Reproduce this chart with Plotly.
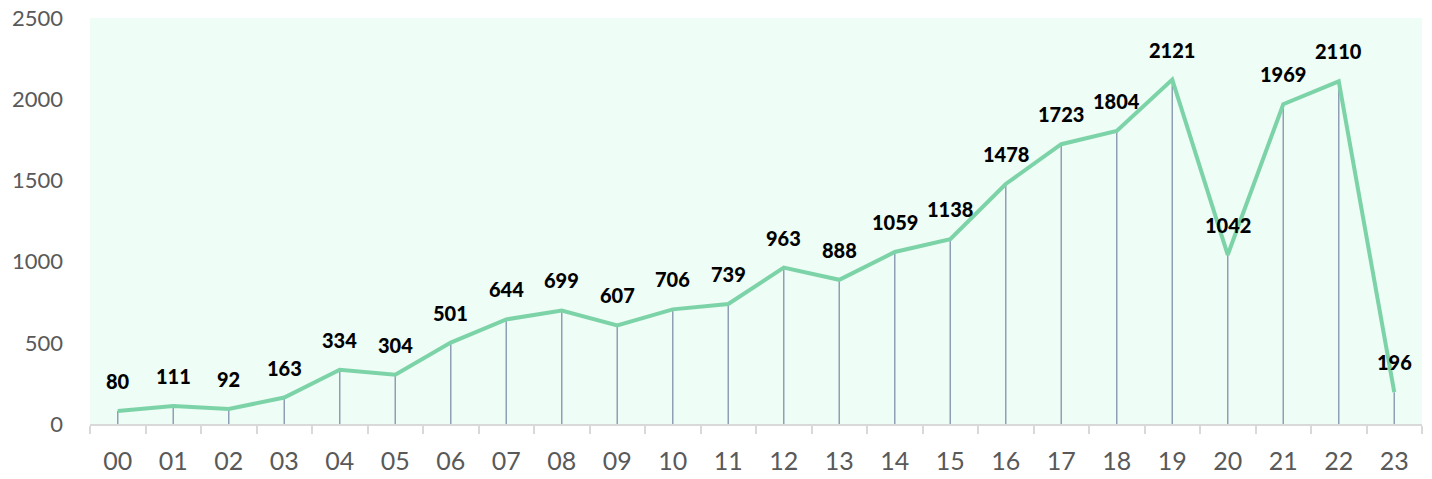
import plotly.graph_objects as go

hours = ["00","01","02","03","04","05","06","07","08","09","10","11",
         "12","13","14","15","16","17","18","19","20","21","22","23"]
counts = [80,111,92,163,334,304,501,644,699,607,706,739,
          963,888,1059,1138,1478,1723,1804,2121,1042,1969,2110,196]
y_ticks = [0,500,1000,1500,2000,2500]

drop_x, drop_y = [], []
for h, v in zip(hours, counts):
    drop_x += [h, h, None]
    drop_y += [0, v, None]

fig = go.Figure()
fig.add_trace(go.Scatter(x=drop_x, y=drop_y, mode="lines",
                         line=dict(color="#8FA0B6", width=1.5),
                         hoverinfo="skip", showlegend=False))
fig.add_trace(go.Scatter(x=hours, y=counts, mode="lines",
                         line=dict(color="#7DD3A8", width=4),
                         showlegend=False))

for h, v in zip(hours, counts):
    fig.add_annotation(x=h, y=v, text=str(v), showarrow=False,
                       yshift=30, yanchor="middle",
                       font=dict(family="Lato", size=20, color="#000000", weight=900))

fig.update_layout(
    width=1432, height=479,
    margin=dict(l=90, r=10, t=18, b=55),
    paper_bgcolor="#FFFFFF",
    plot_bgcolor="#EEFDF5",
    xaxis=dict(type="category", categoryorder="array", categoryarray=hours,
               range=[-0.5, 23.5], automargin=False,
               showline=True, linecolor="#D9D9D9", linewidth=1.5,
               ticks="outside", tickson="boundaries", ticklen=8,
               tickcolor="#D9D9D9", tickwidth=1.5,
               showgrid=False, zeroline=False,
               tickfont=dict(family="Lato", size=25, color="#595959"),
               ticklabelstandoff=14),
    yaxis=dict(range=[0, 2500], tickvals=y_ticks, automargin=False,
               showgrid=False, zeroline=False, showline=False,
               tickfont=dict(family="Lato", size=22, color="#595959"),
               ticklabelstandoff=26),
)

fig.write_html("out.html", config={"displayModeBar": False},
               post_script="document.body.style.margin='0';")
